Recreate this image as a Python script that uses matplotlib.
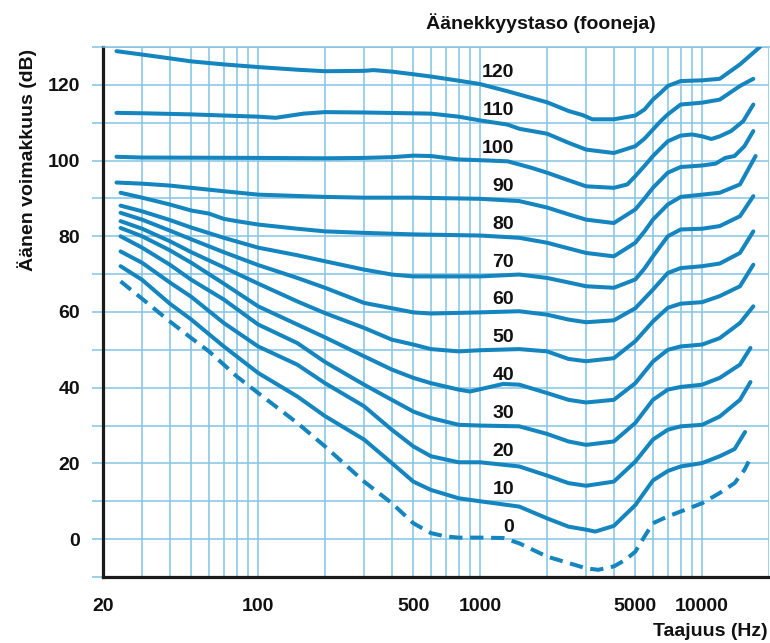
import matplotlib
matplotlib.use('Agg')
import matplotlib.pyplot as plt
from matplotlib.ticker import FixedLocator, FixedFormatter, LogLocator, NullFormatter

# equal loudness contours (Hz, dB)
f_120 = [23, 30, 40, 50, 70, 100, 150, 200, 300, 330, 400, 500, 600, 800, 1000, 1330, 2000,
         2500, 2900, 3200, 4000, 5000, 5500, 6000, 6500, 7000, 8000, 10000, 12000, 14800, 18200]
db_120 = [128.9, 128.0, 127.0, 126.2, 125.4, 124.7, 124.0, 123.6, 123.7, 123.9, 123.5, 122.8, 122.2, 121.1, 120.2, 118.3, 115.4,
          113.1, 112.0, 110.9, 110.9, 111.9, 113.5, 116.1, 117.9, 119.7, 121.0, 121.2, 121.6, 125.4, 130.0]

f_110 = [23, 30, 50, 70, 100, 120, 160, 200, 300, 600, 800, 1000, 1330, 1500, 2000, 2500, 3000,
         4000, 5000, 5500, 6000, 6500, 7000, 8000, 10000, 12000, 14800, 17000]
db_110 = [112.6, 112.5, 112.2, 111.9, 111.6, 111.3, 112.4, 112.8, 112.7, 112.4, 111.6, 110.6, 109.5, 108.4, 107.1, 104.7, 102.9,
          102.0, 103.8, 105.8, 108.2, 110.4, 112.2, 114.8, 115.3, 116.1, 119.7, 121.6]

f_100 = [23, 30, 100, 200, 300, 400, 500, 600, 700, 800, 1000, 1330, 1700, 2000, 2500, 3000, 4000,
         4600, 5000, 5500, 6000, 7000, 8000, 9000, 10000, 11000, 12000, 13500, 15300, 17000]
db_100 = [101.0, 100.8, 100.7, 100.6, 100.7, 100.9, 101.3, 101.2, 100.7, 100.3, 100.1, 99.8, 98.1, 96.8, 94.8, 93.2, 92.8,
          93.7, 95.9, 98.6, 101.2, 105.1, 106.6, 106.9, 106.4, 105.7, 106.4, 107.8, 110.4, 114.8]

f_90 = [23, 30, 40, 50, 70, 100, 200, 300, 500, 1000, 1500, 2000, 2500, 3000, 4000, 5000, 5500,
        6000, 7000, 8000, 10000, 11500, 12700, 14000, 15500, 17000]
db_90 = [94.2, 93.9, 93.4, 92.8, 91.9, 91.0, 90.4, 90.2, 90.2, 89.9, 89.3, 87.6, 85.8, 84.4, 83.5, 87.1, 90.0,
         92.8, 96.8, 98.3, 98.7, 99.2, 100.7, 101.2, 103.8, 107.8]

f_80 = [24, 30, 40, 50, 60, 70, 80, 100, 150, 200, 300, 500, 1000, 1500, 2000, 2500, 3000, 4000,
        5000, 5500, 6000, 7000, 8000, 10000, 12000, 14800, 17400]
db_80 = [91.5, 90.2, 88.4, 86.8, 86.0, 84.6, 84.0, 83.1, 82.0, 81.3, 80.9, 80.5, 80.2, 79.6, 78.3, 76.8, 75.6, 74.7,
         78.3, 81.3, 84.4, 88.4, 90.4, 91.0, 91.5, 93.7, 101.2]

f_70 = [24, 30, 40, 50, 70, 100, 150, 200, 300, 400, 500, 1000, 1500, 2000, 2500, 3000, 4000,
        5000, 5500, 6000, 7000, 8000, 10000, 12000, 14800, 17000]
db_70 = [88.1, 86.6, 84.3, 82.3, 79.6, 77.0, 75.0, 73.4, 71.2, 69.9, 69.4, 69.4, 69.9, 69.0, 67.8, 66.8, 66.4,
         68.6, 71.5, 74.7, 80.0, 81.8, 82.0, 82.7, 85.3, 90.6]

f_60 = [24, 30, 40, 50, 70, 100, 150, 200, 300, 400, 500, 600, 1000, 1500, 2000, 2500, 3000, 4000,
        5000, 6000, 7000, 8000, 10000, 12000, 14800, 17000]
db_60 = [86.2, 84.4, 81.5, 79.2, 75.8, 72.4, 69.0, 66.4, 62.4, 61.0, 59.9, 59.6, 59.9, 60.2, 59.3, 58.0, 57.3, 57.8,
         61.0, 65.9, 70.3, 71.6, 72.1, 72.8, 75.6, 81.3]

f_50 = [24, 30, 40, 50, 70, 100, 150, 200, 300, 400, 500, 600, 800, 1000, 1500, 2000, 2500, 3000,
        4000, 5000, 6000, 7000, 8000, 10000, 12000, 14800, 17000]
db_50 = [84.0, 82.0, 78.7, 75.8, 71.8, 67.5, 62.8, 59.7, 55.8, 52.7, 51.4, 50.2, 49.6, 49.9, 50.2, 49.6, 47.6, 47.0,
         47.8, 52.3, 57.5, 61.1, 62.2, 62.6, 64.2, 66.8, 72.5]

f_40 = [24, 30, 40, 50, 70, 100, 150, 200, 300, 400, 500, 600, 800, 900, 1000, 1270, 1500, 2000,
        2500, 3000, 4000, 5000, 6000, 7000, 8000, 10000, 12000, 14800, 17000]
db_40 = [82.2, 80.0, 76.3, 73.0, 67.5, 61.5, 56.7, 53.3, 48.3, 44.8, 42.6, 41.2, 39.5, 39.0, 39.6, 41.0, 40.8, 38.6,
         36.8, 36.1, 36.8, 41.2, 46.9, 50.0, 50.9, 51.4, 53.1, 57.1, 61.5]

f_30 = [24, 30, 40, 50, 70, 100, 150, 200, 300, 400, 500, 600, 800, 1000, 1500, 2000, 2500, 3000,
        4000, 5000, 6000, 7000, 8000, 10000, 12000, 14800, 16500]
db_30 = [80.0, 77.0, 72.5, 68.5, 63.3, 56.7, 51.8, 46.8, 40.8, 36.8, 33.7, 32.0, 30.2, 30.0, 29.8, 27.8, 25.8, 24.9,
         25.8, 30.7, 36.8, 39.5, 40.2, 40.8, 42.6, 46.1, 50.5]

f_20 = [24, 30, 40, 50, 70, 100, 150, 200, 300, 400, 500, 600, 800, 1000, 1500, 2000, 2500, 3000,
        4000, 5000, 6000, 7000, 8000, 10000, 12000, 14800, 16500]
db_20 = [76.0, 73.0, 67.8, 64.0, 57.1, 50.9, 46.1, 41.2, 35.1, 28.9, 24.5, 21.9, 20.3, 20.3, 19.2, 16.8, 14.8, 14.1,
         15.2, 20.5, 26.3, 28.9, 29.8, 30.2, 32.4, 36.8, 41.5]

f_10 = [24, 30, 40, 50, 70, 100, 150, 200, 300, 400, 500, 600, 800, 1000, 1500, 2000, 2500, 3000,
        3300, 4000, 5000, 6000, 7000, 8000, 10000, 12000, 14000, 15600]
db_10 = [72.1, 68.5, 62.2, 58.0, 50.9, 43.9, 37.7, 32.5, 26.3, 20.1, 15.2, 13.0, 10.8, 10.0, 8.6, 5.5, 3.3, 2.5,
         2.0, 3.5, 9.0, 15.5, 18.0, 19.2, 20.1, 21.9, 23.8, 28.3]

# hearing threshold (dashed)
f_0 = [24, 30, 40, 50, 60, 70, 80, 100, 150, 200, 300, 400, 500, 600, 700, 800, 1000, 1270, 1500,
       2000, 2500, 3000, 3400, 4000, 4500, 5000, 5500, 6000, 7000, 8000, 10000, 12000, 14000, 15500, 16200]
db_0 = [68.1, 63.5, 57.5, 53.1, 49.6, 46.1, 43.0, 38.6, 30.7, 24.5, 15.2, 9.5, 4.2, 1.6, 0.7, 0.4, 0.4, 0.3, -1.1,
        -4.6, -6.3, -7.7, -8.1, -7.2, -5.5, -3.3, 0.7, 4.2, 6.0, 7.3, 9.5, 12.2, 14.8, 18.3, 20.5]

levels = [0, 10, 20, 30, 40, 50, 60, 70, 80, 90, 100, 110, 120]
xtick_vals = [20, 100, 500, 1000, 5000, 10000]
xtick_text = ['20', '100', '500', '1000', '5000', '10000']
ytick_vals = list(range(-10, 131, 10))

CURVE = '#1485be'
GRID = '#84c3e4'

plt.rcParams['font.family'] = ['Liberation Sans', 'DejaVu Sans']

fig = plt.figure(figsize=(7.7, 6.43), dpi=100)
ax = fig.add_axes([103 / 770, 1 - 577 / 643, 666 / 770, 530 / 643])

curves = [(0, f_0, db_0), (10, f_10, db_10), (20, f_20, db_20), (30, f_30, db_30),
          (40, f_40, db_40), (50, f_50, db_50), (60, f_60, db_60), (70, f_70, db_70),
          (80, f_80, db_80), (90, f_90, db_90), (100, f_100, db_100), (110, f_110, db_110),
          (120, f_120, db_120)]

for lev, f, db in curves:
    if lev == 0:
        ax.plot(f, db, color=CURVE, lw=2.9, linestyle=(0, (3.3, 1.9)), dash_capstyle='butt',
                dash_joinstyle='round', zorder=3)
    else:
        ax.plot(f, db, color=CURVE, lw=2.9, solid_capstyle='round', solid_joinstyle='round', zorder=3)
    ax.text(1420, lev + 3.2, str(lev), ha='right', va='center', fontsize=14,
            fontweight='bold', color='#111111', zorder=4)

ax.set_xscale('log')
ax.set_xlim(20, 20000)
ax.set_ylim(-10, 130)

ax.xaxis.set_major_locator(FixedLocator(xtick_vals))
ax.xaxis.set_major_formatter(FixedFormatter(xtick_text))
ax.xaxis.set_minor_locator(LogLocator(base=10, subs=range(1, 10), numticks=20))
ax.xaxis.set_minor_formatter(NullFormatter())
ax.tick_params(axis='x', which='both', length=0, pad=15, labelsize=14, labelcolor='#111111')
for lab in ax.get_xticklabels():
    lab.set_fontweight('bold')

ax.yaxis.set_major_locator(FixedLocator(ytick_vals))
ax.yaxis.set_major_formatter(FixedFormatter([str(v) if v >= 0 and v % 20 == 0 else '' for v in ytick_vals]))
ax.tick_params(axis='y', which='major', length=8, width=1.1, color=GRID, direction='out',
               pad=8.5, labelsize=14, labelcolor='#111111')
for lab in ax.get_yticklabels():
    lab.set_fontweight('bold')

ax.grid(True, which='both', axis='both', color=GRID, lw=1.1)
ax.set_axisbelow(True)

ax.spines['right'].set_visible(False)
ax.spines['top'].set_color(GRID)
ax.spines['top'].set_linewidth(1.1)
ax.spines['left'].set_linewidth(2.3)
ax.spines['bottom'].set_linewidth(2.3)
ax.spines['left'].set_color('#1a1a1a')
ax.spines['bottom'].set_color('#1a1a1a')

fig.text(27 / 770, 1 - 160 / 643, 'Äänen voimakkuus (dB)', rotation=90, ha='center', va='center',
         fontsize=14, fontweight='bold', color='#111111')
fig.text(541 / 770, 1 - 23 / 643, 'Äänekkyystaso (fooneja)', ha='center', va='center',
         fontsize=14, fontweight='bold', color='#111111')
fig.text(768 / 770, 1 - 632 / 643, 'Taajuus (Hz)', ha='right', va='center',
         fontsize=14, fontweight='bold', color='#111111')

fig.savefig('out.png', dpi=100)
